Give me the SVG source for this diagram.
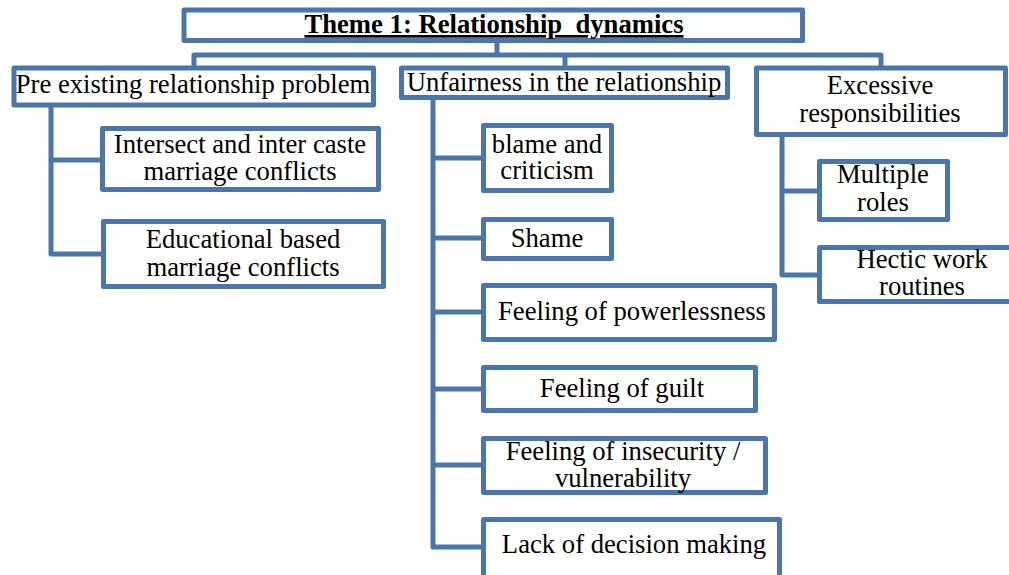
<svg xmlns="http://www.w3.org/2000/svg" width="1009" height="575" viewBox="0 0 1009 575">
<style>
.b{fill:#fff;stroke:#4a76ac;stroke-width:5;stroke-linejoin:round}
.c{fill:none;stroke:#4a76ac;stroke-width:5;stroke-linejoin:round}
text{font-family:"Liberation Serif","Times New Roman",serif;font-size:26.67px;fill:#000;text-anchor:middle}
.t{font-weight:bold;text-decoration:underline}
</style>
<rect width="1009" height="575" fill="#fff"/>
<g id="connectors">
<path class="c" d="M497,40V55M194,68V55H881V68M565,55V68"/>
<path class="c" d="M51,105V254H102M51,160H102"/>
<path class="c" d="M433,97V547H483M433,158H483M433,238H483M433,312H483M433,389H483M433,465H483"/>
<path class="c" d="M782,134V275H819M782,191H819"/>
</g>
<g id="title"><rect class="b" x="184" y="10" width="618.5" height="30.5"/><text class="t" x="494" y="33">Theme 1: Relationship&#160; dynamics</text></g>
<g id="pre"><rect class="b" x="14" y="68" width="359.5" height="37"/><text x="193" y="93">Pre existing relationship problem</text></g>
<g id="unfair"><rect class="b" x="401.5" y="68" width="326" height="29.5"/><text x="564" y="91">Unfairness in the relationship</text></g>
<g id="excessive"><rect class="b" x="756.5" y="68" width="249" height="66.5"/><text x="880" y="94">Excessive</text><text x="880" y="122">responsibilities</text></g>
<g id="intersect"><rect class="b" x="102.5" y="128.5" width="276" height="61"/><text x="240" y="153">Intersect and inter caste</text><text x="240" y="180">marriage conflicts</text></g>
<g id="educational"><rect class="b" x="103.5" y="221.5" width="280" height="65"/><text x="243" y="248">Educational based</text><text x="243" y="276">marriage conflicts</text></g>
<g id="blame"><rect class="b" x="483.5" y="125.5" width="128" height="65"/><text x="547" y="153">blame and</text><text x="547" y="179">criticism</text></g>
<g id="shame"><rect class="b" x="483.5" y="219.5" width="128" height="39"/><text x="547" y="247">Shame</text></g>
<g id="powerless"><rect class="b" x="483.5" y="285.5" width="291" height="54"/><text x="632" y="320">Feeling of powerlessness</text></g>
<g id="guilt"><rect class="b" x="483.5" y="367.5" width="272" height="43"/><text x="622" y="397">Feeling of guilt</text></g>
<g id="insecurity"><rect class="b" x="483.5" y="438.5" width="282" height="54"/><text x="623" y="460">Feeling of insecurity /</text><text x="623" y="487">vulnerability</text></g>
<g id="decision"><rect class="b" x="483.5" y="519.5" width="296" height="70"/><text x="634" y="553">Lack of decision making</text></g>
<g id="roles"><rect class="b" x="819.5" y="161.5" width="128" height="58"/><text x="883" y="183">Multiple</text><text x="883" y="211">roles</text></g>
<g id="hectic"><rect class="b" x="819.5" y="247.5" width="220" height="54"/><text x="922" y="268">Hectic work</text><text x="922" y="295">routines</text></g>
</svg>
